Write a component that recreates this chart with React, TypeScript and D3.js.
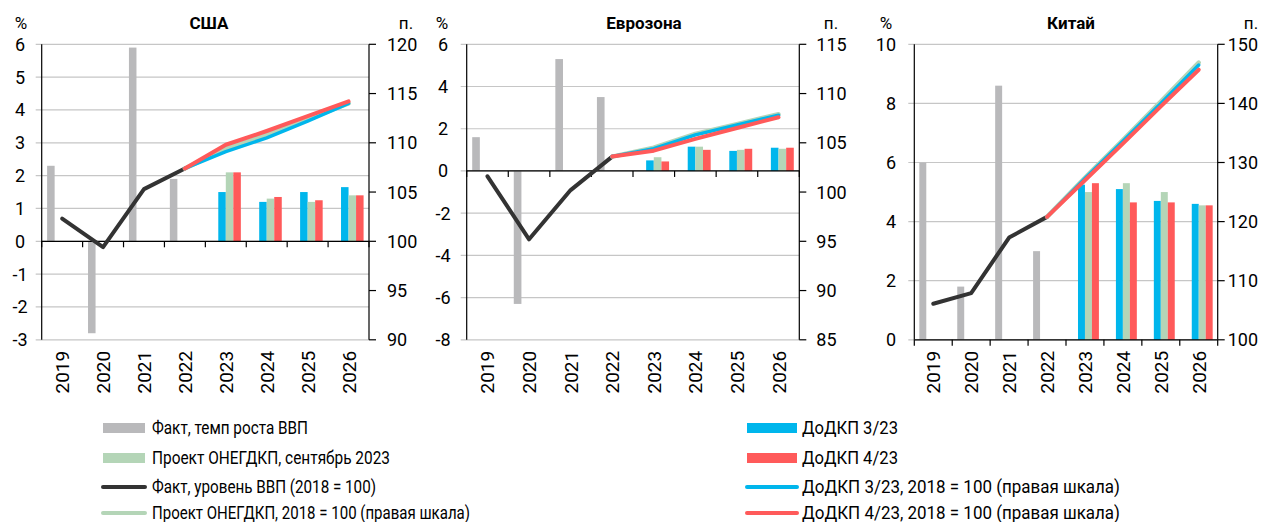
import React, { useRef, useEffect } from 'react';
import * as d3 from 'd3';

const years = ['2019', '2020', '2021', '2022', '2023', '2024', '2025', '2026'];

// США, темп роста ВВП, %
const usaFact = [2.3, -2.8, 5.9, 1.9, null, null, null, null];
const usaDkp3 = [null, null, null, null, 1.5, 1.2, 1.5, 1.65];
const usaProject = [null, null, null, null, 2.1, 1.3, 1.2, 1.4];
const usaDkp4 = [null, null, null, null, 2.1, 1.35, 1.25, 1.4];
// США, уровень ВВП (2018 = 100)
const usaLevelFact = [102.3, 99.4, 105.3, 107.4, null, null, null, null];
const usaLevelProject = [null, null, null, 107.4, 109.4, 110.8, 112.4, 114.0];
const usaLevelDkp3 = [null, null, null, 107.4, 109.1, 110.5, 112.2, 114.0];
const usaLevelDkp4 = [null, null, null, 107.4, 109.8, 111.2, 112.7, 114.2];

// Еврозона
const euroFact = [1.6, -6.3, 5.3, 3.5, null, null, null, null];
const euroDkp3 = [null, null, null, null, 0.5, 1.15, 0.95, 1.1];
const euroProject = [null, null, null, null, 0.65, 1.15, 1.0, 1.05];
const euroDkp4 = [null, null, null, null, 0.45, 1.0, 1.05, 1.1];
const euroLevelFact = [101.6, 95.2, 100.2, 103.6, null, null, null, null];
const euroLevelProject = [null, null, null, 103.6, 104.5, 105.9, 106.9, 107.9];
const euroLevelDkp3 = [null, null, null, 103.6, 104.4, 105.8, 106.8, 107.8];
const euroLevelDkp4 = [null, null, null, 103.6, 104.2, 105.4, 106.5, 107.6];

// Китай
const chinaFact = [6.0, 1.8, 8.6, 3.0, null, null, null, null];
const chinaDkp3 = [null, null, null, null, 5.25, 5.1, 4.7, 4.6];
const chinaProject = [null, null, null, null, 5.0, 5.3, 5.0, 4.55];
const chinaDkp4 = [null, null, null, null, 5.3, 4.65, 4.65, 4.55];
const chinaLevelFact = [106.1, 107.9, 117.3, 120.8, null, null, null, null];
const chinaLevelProject = [null, null, null, 120.8, 127.4, 133.8, 140.3, 146.9];
const chinaLevelDkp3 = [null, null, null, 120.8, 127.3, 133.6, 140.0, 146.5];
const chinaLevelDkp4 = [null, null, null, 120.8, 127.0, 133.2, 139.5, 145.7];

const usaLeftTicks = [-3, -2, -1, 0, 1, 2, 3, 4, 5, 6];
const usaRightTicks = [90, 95, 100, 105, 110, 115, 120];
const euroLeftTicks = [-8, -6, -4, -2, 0, 2, 4, 6];
const euroRightTicks = [85, 90, 95, 100, 105, 110, 115];
const chinaLeftTicks = [0, 2, 4, 6, 8, 10];
const chinaRightTicks = [100, 110, 120, 130, 140, 150];

const legendLeftLabels = [
  'Факт, темп роста ВВП',
  'Проект ОНЕГДКП, сентябрь 2023',
  'Факт, уровень ВВП (2018 = 100)',
  'Проект ОНЕГДКП, 2018 = 100 (правая шкала)',
];
const legendRightLabels = [
  'ДоДКП 3/23',
  'ДоДКП 4/23',
  'ДоДКП 3/23, 2018 = 100 (правая шкала)',
  'ДоДКП 4/23, 2018 = 100 (правая шкала)',
];

const GRAY = '#b9b9bb';
const BLUE = '#00b6ec';
const GREEN = '#b4d5b7';
const RED = '#ff5a5a';
const DARK = '#333333';
const FONT = 'Roboto, "Noto Sans", sans-serif';

// legend look: swatch kind, colour, text width in px
const legendLeftStyle = [
  { kind: 'bar', color: GRAY, w: 156 },
  { kind: 'bar', color: GREEN, w: 238 },
  { kind: 'line', color: DARK, w: 224 },
  { kind: 'line', color: GREEN, w: 318 },
];
const legendRightStyle = [
  { kind: 'bar', color: BLUE, w: 96 },
  { kind: 'bar', color: RED, w: 96 },
  { kind: 'line', color: BLUE, w: 318 },
  { kind: 'line', color: RED, w: 318 },
];

const panels = [
  {
    title: 'США', x0: 41.7, x1: 369, titleX: 209, pctX: 21, pX: 406, leftAnchor: 'middle', leftLabelX: 20, rightGap: 18,
    leftTicks: usaLeftTicks, rightTicks: usaRightTicks,
    bars: [usaFact, usaDkp3, usaProject, usaDkp4],
    lines: [usaLevelFact, usaLevelProject, usaLevelDkp3, usaLevelDkp4],
  },
  {
    title: 'Еврозона', x0: 466.7, x1: 799.3, titleX: 644, pctX: 442, pX: 831, leftAnchor: 'middle', leftLabelX: 443, rightGap: 17,
    leftTicks: euroLeftTicks, rightTicks: euroRightTicks,
    bars: [euroFact, euroDkp3, euroProject, euroDkp4],
    lines: [euroLevelFact, euroLevelProject, euroLevelDkp3, euroLevelDkp4],
  },
  {
    title: 'Китай', x0: 914.3, x1: 1217.7, titleX: 1071, pctX: 886, pX: 1251, leftAnchor: 'end', leftLabelX: 896, rightGap: 10,
    leftTicks: chinaLeftTicks, rightTicks: chinaRightTicks,
    bars: [chinaFact, chinaDkp3, chinaProject, chinaDkp4],
    lines: [chinaLevelFact, chinaLevelProject, chinaLevelDkp3, chinaLevelDkp4],
  },
];

const barColors = [GRAY, BLUE, GREEN, RED];
const lineColors = [DARK, GREEN, BLUE, RED];
const lineWidths = [4, 4.5, 3.5, 4];

const App = () => {
  const ref = useRef(null);

  useEffect(() => {
    const svg = d3.select(ref.current);
    svg.selectAll('*').remove();
    const yTop = 44.3;
    const yBot = 339.8;

    panels.forEach(p => {
      const g = svg.append('g');
      const x = d3.scaleBand().domain(years).range([p.x0, p.x1]).padding(0);
      const inner = d3.scaleBand().domain(['0', '1', '2', '3']).range([0, x.bandwidth()]).paddingInner(0).paddingOuter(0.72);
      const yL = d3.scaleLinear().domain(d3.extent(p.leftTicks)).range([yBot, yTop]);
      const yR = d3.scaleLinear().domain(d3.extent(p.rightTicks)).range([yBot, yTop]);

      // gridlines
      g.selectAll('line.grid').data(p.leftTicks).enter().append('line')
        .attr('x1', p.x0 - 6).attr('x2', p.x1)
        .attr('y1', d => yL(d)).attr('y2', d => yL(d))
        .attr('stroke', '#c6c6c6').attr('stroke-width', 1.2);

      // bars
      p.bars.forEach((series, si) => {
        g.selectAll(null).data(years.map((yr, i) => ({ yr, v: series[i] })).filter(d => d.v != null))
          .enter().append('rect')
          .attr('x', d => x(d.yr) + inner(String(si)))
          .attr('width', inner.bandwidth())
          .attr('y', d => Math.min(yL(d.v), yL(0)))
          .attr('height', d => Math.abs(yL(d.v) - yL(0)))
          .attr('fill', barColors[si]);
      });

      // category axis at zero
      g.append('line').attr('x1', p.x0).attr('x2', p.x1).attr('y1', yL(0)).attr('y2', yL(0))
        .attr('stroke', '#000').attr('stroke-width', 1.2);
      g.selectAll(null).data(d3.range(years.length + 1)).enter().append('line')
        .attr('x1', i => p.x0 + i * x.step()).attr('x2', i => p.x0 + i * x.step())
        .attr('y1', yL(0)).attr('y2', yL(0) + 6)
        .attr('stroke', '#000').attr('stroke-width', 1.2);

      // lines
      const line = d3.line<any>()
        .defined(d => d.v != null)
        .x(d => x(d.yr) + x.bandwidth() / 2)
        .y(d => yR(d.v));
      p.lines.forEach((series, li) => {
        g.append('path')
          .datum(years.map((yr, i) => ({ yr, v: series[i] })))
          .attr('d', line)
          .attr('fill', 'none')
          .attr('stroke', lineColors[li])
          .attr('stroke-width', lineWidths[li])
          .attr('stroke-linejoin', 'round')
          .attr('stroke-linecap', 'round');
      });

      // left axis
      g.append('line').attr('x1', p.x0).attr('x2', p.x0).attr('y1', yTop).attr('y2', yBot)
        .attr('stroke', '#000').attr('stroke-width', 1.2);
      g.selectAll(null).data(p.leftTicks).enter().append('text')
        .attr('x', p.leftLabelX).attr('y', d => yL(d) + 6.5)
        .attr('text-anchor', p.leftAnchor)
        .attr('font-size', 18).attr('font-family', FONT).attr('fill', '#000')
        .text(d => String(d));

      // right axis
      g.append('line').attr('x1', p.x1).attr('x2', p.x1).attr('y1', yTop).attr('y2', yBot)
        .attr('stroke', '#000').attr('stroke-width', 1.2);
      g.selectAll(null).data(p.rightTicks).enter().append('line')
        .attr('x1', p.x1).attr('x2', p.x1 + 7)
        .attr('y1', d => yR(d)).attr('y2', d => yR(d))
        .attr('stroke', '#000').attr('stroke-width', 1.2);
      g.selectAll(null).data(p.rightTicks).enter().append('text')
        .attr('x', p.x1 + p.rightGap).attr('y', d => yR(d) + 6.5)
        .attr('font-size', 18).attr('font-family', FONT).attr('fill', '#000')
        .text(d => String(d));

      // year labels
      g.selectAll(null).data(years).enter().append('text')
        .attr('transform', d => `translate(${x(d) + x.bandwidth() / 2 + 7},${yBot + 11}) rotate(-90)`)
        .attr('text-anchor', 'end')
        .attr('font-size', 19).attr('font-family', FONT).attr('fill', '#000')
        .text(d => d);

      // titles
      g.append('text').attr('x', p.titleX).attr('y', 29).attr('text-anchor', 'middle')
        .attr('font-size', 17).attr('font-weight', 'bold').attr('font-family', FONT).text(p.title);
      g.append('text').attr('x', p.pctX).attr('y', 29).attr('text-anchor', 'middle')
        .attr('font-size', 17).attr('font-family', FONT).text('%');
      g.append('text').attr('x', p.pX).attr('y', 29).attr('text-anchor', 'middle')
        .attr('font-size', 17).attr('font-family', FONT).text('п.');
    });

    // legend
    const rowY = [428, 458, 487, 513];
    const drawLegend = (labels, styles, sx0, sx1, tx) => {
      labels.forEach((label, i) => {
        const st = styles[i];
        const y = rowY[i];
        if (st.kind === 'bar') {
          svg.append('rect').attr('x', sx0).attr('y', y - 5).attr('width', sx1 - sx0).attr('height', 10).attr('fill', st.color);
        } else {
          svg.append('line').attr('x1', sx0).attr('x2', sx1).attr('y1', y).attr('y2', y)
            .attr('stroke', st.color).attr('stroke-width', 4).attr('stroke-linecap', 'round');
        }
        svg.append('text').attr('x', tx).attr('y', y + 6).attr('font-size', 17.5)
          .attr('font-family', FONT).attr('fill', '#000')
          .attr('textLength', st.w).attr('lengthAdjust', 'spacingAndGlyphs')
          .text(label);
      });
    };
    drawLegend(legendLeftLabels, legendLeftStyle, 103, 145, 152);
    drawLegend(legendRightLabels, legendRightStyle, 747, 797, 802);
  }, []);

  return (
    <svg ref={ref} width={1264} height={522}
      style={{ position: 'absolute', left: 0, top: 0, background: '#fff' }} />
  );
};

export default App;
